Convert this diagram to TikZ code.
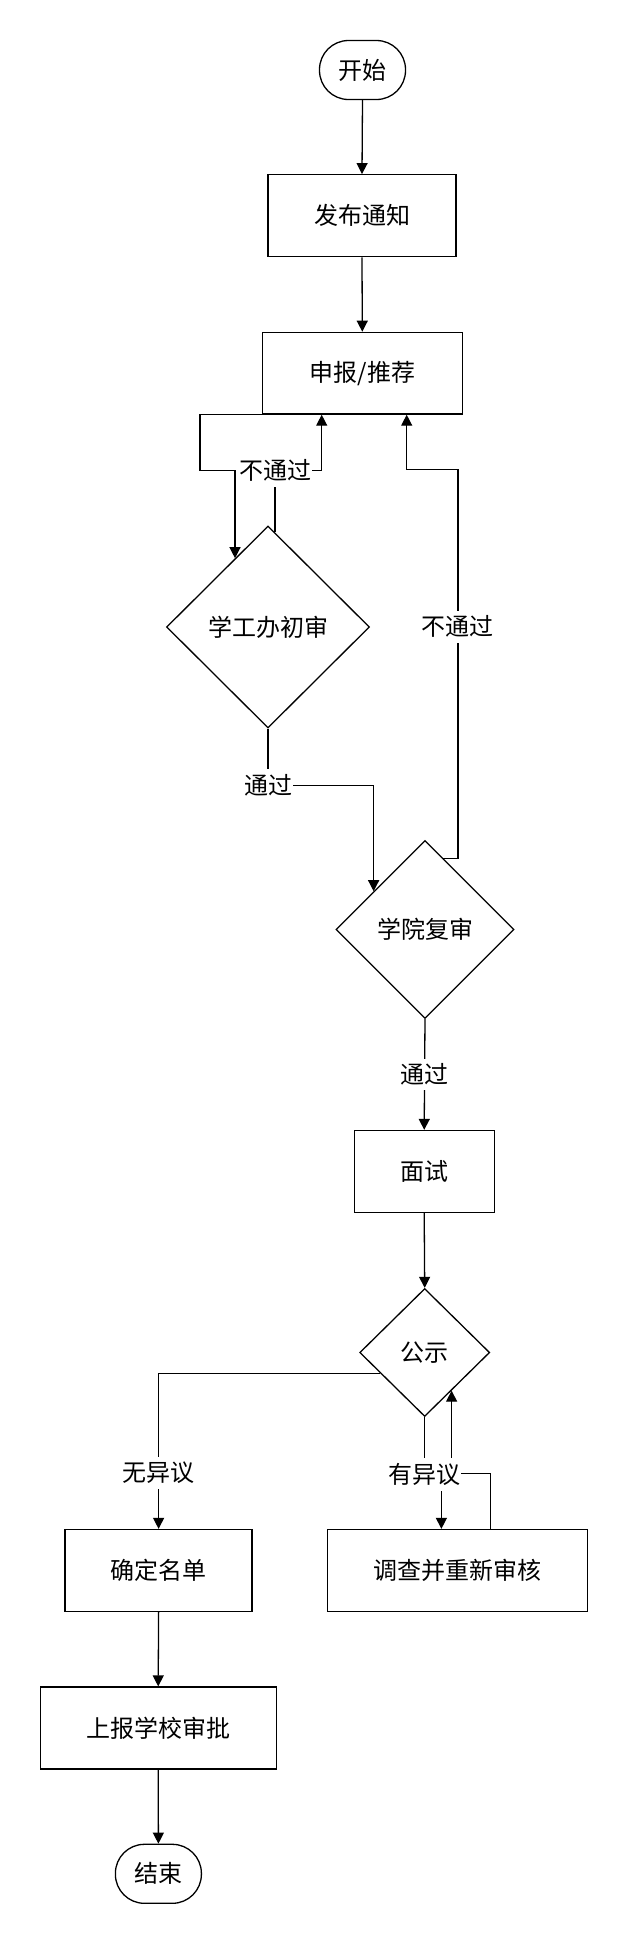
\documentclass[tikz,border=0pt]{standalone}
\usepackage{fontspec}
\newfontfamily\cjk{Noto Sans CJK SC}
\usetikzlibrary{shapes.geometric,arrows.meta,calc}
\begin{document}
\begin{tikzpicture}[x=1pt,y=-1pt,
  line width=1.3pt,
  txt/.style={font=\cjk\fontsize{24}{28}\selectfont},
  term/.style={txt,draw,rectangle,rounded corners=29pt,minimum width=86pt,minimum height=59pt,inner sep=0pt},
  proc/.style={txt,draw,rectangle,inner sep=0pt},
  dec/.style={txt,draw,diamond,inner sep=0pt},
  lbl/.style={txt,fill=white,inner xsep=0.5pt,inner ysep=5pt},
  arr/.style={-{Triangle[length=11pt,width=11pt]}}
]
\useasboundingbox (0,0) rectangle (628,1944);

\node[term] (start) at (362.5,70) {开始};
\node[proc,minimum width=188pt,minimum height=82pt] (notice) at (362,215.7) {发布通知};
\node[proc,minimum width=200pt,minimum height=81.7pt] (apply) at (362.3,373.2) {申报/推荐};
\node[dec,minimum width=203pt,minimum height=202pt] (d1) at (268,627) {学工办初审};
\node[dec,minimum width=178pt,minimum height=178pt] (d2) at (425,929.5) {学院复审};
\node[proc,minimum width=140pt,minimum height=82pt] (interview) at (424.2,1171.5) {面试};
\node[dec,minimum width=130pt,minimum height=128pt] (d3) at (424.7,1352.5) {公示};
\node[proc,minimum width=187pt,minimum height=82pt] (confirm) at (158.6,1570.5) {确定名单};
\node[proc,minimum width=260pt,minimum height=82pt] (investigate) at (457.6,1570.5) {调查并重新审核};
\node[proc,minimum width=236pt,minimum height=82pt] (report) at (158.2,1728) {上报学校审批};
\node[term] (end) at (158.4,1873.8) {结束};

% main flow
\draw[arr] (start.south) -- (notice.north);
\draw[arr] (notice.south) -- (apply.north);

% apply -> d1
\draw[arr] (apply.south west) -- ++(-61.6,0) -- ++(0,56) -| ($(d1.north)!0.323!(d1.west)$);

% d1 -> apply (不通过)
\coordinate (t1) at ($(apply.south)+(-40.6,0)$);
\draw[arr] ($(d1.north)!0.069!(d1.east)$) |- node[lbl,pos=0.5]{不通过} ($(t1)+(0,56)$) -- (t1);

% d1 -> d2 (通过)
\draw[arr] (d1.south) -- ++(0,56.7) node[lbl]{通过} -| ($(d2.north)!0.573!(d2.west)$);

% d2 -> apply (不通过)
\coordinate (t3) at ($(apply.south)+(44.4,0)$);
\draw[arr] ($(d2.north)!0.206!(d2.east)$) -- ++(14.4,0) -- node[lbl,pos=0.595]{不通过} ++(0,-389) -| (t3);

% d2 -> interview
\draw[arr] (d2.south) -- node[lbl,midway]{通过} (interview.north);

% interview -> d3
\draw[arr] (interview.south) -- (d3.north);

% d3 -> confirm
\draw[arr] ($(d3.west)!0.32!(d3.south)$) -| node[lbl,pos=0.82]{无异议} (confirm.north);

% investigate -> d3
\draw[arr] ($(investigate.north)+(33,0)$) -- ++(0,-55.3) -| ($(d3.south)!0.41!(d3.east)$);

% d3 -> investigate (有异议)
\draw[arr] (d3.south) -- ++(0,57.3) node[lbl]{有异议} -| ($(investigate.north)+(-16.2,0)$);

% confirm -> report -> end
\draw[arr] (confirm.south) -- (report.north);
\draw[arr] (report.south) -- (end.north);
\end{tikzpicture}
\end{document}
